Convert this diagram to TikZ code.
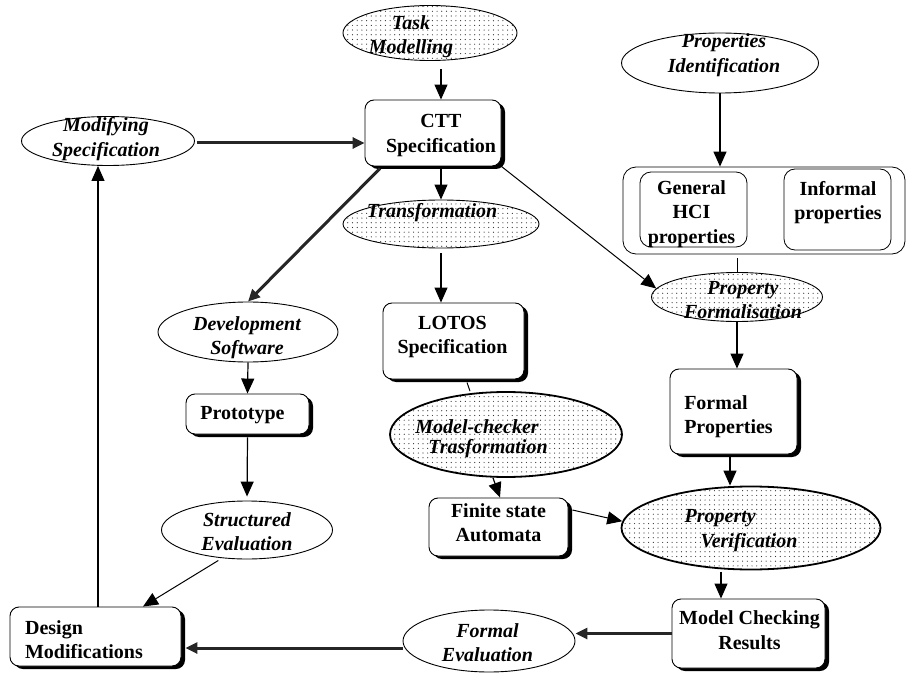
\documentclass[tikz,border=0pt]{standalone}
\usepackage{fontspec}
\setmainfont{Liberation Serif}
\usetikzlibrary{shapes.geometric,arrows.meta,patterns,shadows}
\pgfdeclarepatternformonly{sdots}{\pgfqpoint{-1pt}{-1pt}}{\pgfqpoint{1pt}{1pt}}{\pgfqpoint{4.7pt}{4.7pt}}{\pgfpathcircle{\pgfqpoint{0pt}{0pt}}{0.6pt}\pgfusepath{fill}}
\newcommand{\tlc}[2]{\begin{tabular}{@{}c@{}}#1\\#2\end{tabular}}
\newcommand{\tll}[2]{\begin{tabular}{@{}l@{}}#1\\#2\end{tabular}}
\begin{document}
\begin{tikzpicture}[x=1pt,y=-1pt,
  bx/.style={draw, rounded corners=9pt, fill=white, line width=0.9pt, inner sep=0pt,
    drop shadow={shadow xshift=4pt,shadow yshift=-3pt,opacity=1,fill=black}},
  plainbx/.style={draw, rounded corners=11pt, line width=0.8pt, inner sep=0pt},
  ell/.style={draw, ellipse, inner sep=0pt, line width=0.9pt, fill=white},
  dell/.style={draw, ellipse, inner sep=0pt, line width=0.9pt, pattern=sdots, pattern color=black!80},
  thk/.style={line width=1.8pt},
  btxt/.style={font=\fontsize{20}{24.5}\selectfont\bfseries, inner sep=0pt},
  itxt/.style={font=\fontsize{20}{24.5}\selectfont\bfseries\itshape, inner sep=0pt},
  itxtt/.style={font=\fontsize{20}{18.5}\selectfont\bfseries\itshape, inner sep=0pt},
  arr/.style={line width=1.2pt, -{Triangle[length=15pt,width=13pt]}},
  tarr/.style={line width=3pt, draw=black!85, -{Triangle[length=12pt,width=11pt]}, fill=black!85},
]
\useasboundingbox (0,0) rectangle (908,674);

% ellipses
\node[dell, minimum width=174pt, minimum height=55pt,
  label={[itxt,xshift=-19pt,yshift=-3.6pt]center:{\tlc{Task}{Modelling}}}] (tm) at (430,33) {};
\node[ell, minimum width=173pt, minimum height=49pt,
  label={[itxt,xshift=-2pt,yshift=2pt]center:{\tlc{Modifying}{Specification}}}] (ms) at (108,141) {};
\node[dell, minimum width=196pt, minimum height=48pt,
  label={[itxt,xshift=-9pt,yshift=11pt]center:{\begin{tabular}{@{}c@{}}Transformation\end{tabular}}}] (tr) at (441,224) {};
\node[ell, minimum width=180pt, minimum height=60pt,
  label={[itxt,xshift=-1pt,yshift=-5.6pt]center:{\tlc{Development}{Software}}}] (ds) at (248,332) {};
\node[ell, minimum width=171pt, minimum height=58pt,
  label={[itxt,xshift=0pt,yshift=-3.6pt]center:{\tlc{Structured}{Evaluation}}}] (se) at (247,530) {};
\node[dell, thk, minimum width=232pt, minimum height=85pt,
  label={[itxtt,xshift=-24.5pt,yshift=-4.8pt]center:{\tll{Model-checker}{\hspace*{13pt}Trasformation}}}] (mc) at (506,434.5) {};
\node[ell, minimum width=197pt, minimum height=60pt,
  label={[itxt,xshift=4pt,yshift=8pt]center:{\tlc{Properties}{Identification}}}] (ip) at (720,63) {};
\node[dell, minimum width=171pt, minimum height=49pt,
  label={[itxt,xshift=6pt,yshift=-4.6pt]center:{\tlc{Property}{Formalisation}}}] (pf) at (737,297) {};
\node[dell, thk, minimum width=259pt, minimum height=83pt,
  label={[itxt,xshift=-10pt,yshift=-2pt]center:{\tll{Property}{\hspace*{16pt}Verification}}}] (pv) at (751,528) {};
\node[ell, minimum width=172pt, minimum height=62pt,
  label={[itxt,xshift=-1.5pt,yshift=-3.6pt]center:{\tlc{Formal}{Evaluation}}}] (fe) at (489,641) {};

% boxes
\node[bx, minimum width=136pt, minimum height=66pt,
  label={[btxt,xshift=8pt,yshift=-2pt]center:{\tlc{CTT}{Specification}}}] (ctt) at (433,133) {};
\node[bx, minimum width=123pt, minimum height=40pt,
  label={[btxt,xshift=-5pt,yshift=-1pt]center:{\begin{tabular}{@{}c@{}}Prototype\end{tabular}}}] (pr) at (247.5,414) {};
\node[bx, minimum width=171pt, minimum height=59pt,
  label={[btxt,xshift=-11.5pt,yshift=-5.1pt]center:{\tll{Design}{Modifications}}}] (dm) at (95.5,636.5) {};
\node[bx, minimum width=141pt, minimum height=76pt,
  label={[btxt,xshift=-1pt,yshift=4.4pt]center:{\tlc{LOTOS}{Specification}}}] (lotos) at (453.5,341) {};
\node[bx, minimum width=139pt, minimum height=58pt,
  label={[btxt,xshift=0pt,yshift=2.4pt]center:{\tlc{Finite state}{Automata}}}] (fsa) at (498.5,527) {};
\node[bx, minimum width=127pt, minimum height=85pt,
  label={[btxt,xshift=-5pt,yshift=-5.1pt]center:{\tll{Formal}{Properties}}}] (fp) at (733.5,411.5) {};
\node[bx, minimum width=153pt, minimum height=69pt,
  label={[btxt,xshift=1pt,yshift=1.5pt]center:{\tlc{Model Checking}{Results}}}] (mcr) at (748.5,633.5) {};

% property container
\node[plainbx, rounded corners=13pt, minimum width=282pt, minimum height=87pt] (cont) at (764,210.5) {};
\node[plainbx, minimum width=107pt, minimum height=75pt,
  label={[btxt,xshift=-2pt,yshift=-4.5pt]center:{\begin{tabular}{@{}c@{}}General\\HCI\\properties\end{tabular}}}] (ghci) at (693.5,209.5) {};
\node[plainbx, minimum width=107pt, minimum height=81pt,
  label={[btxt,xshift=0.5pt,yshift=7pt]center:{\tlc{Informal}{properties}}}] (inf) at (837.5,209.5) {};

% helper coordinates
\coordinate (fpb) at ([xshift=-3.5pt]fp.south);
\coordinate (pvb) at ([xshift=-30pt]pv.south);
\coordinate (fel) at ([yshift=-7pt]fe.west);
\coordinate (dme) at ([xshift=4pt]dm.east);
\coordinate (dmt) at ([xshift=2.5pt]dm.north);

% connectors
\draw[arr] ([xshift=11pt,yshift=-8pt]tm.south) -- ([xshift=8pt]ctt.north);
\draw[tarr] ([xshift=2pt,yshift=-2pt]ms.east) -- ([yshift=-10pt]ctt.west);
\draw[arr] ([xshift=8pt]ctt.south) -- (tr.north);
\draw[tarr] ([xshift=-53pt,yshift=-2pt]ctt.south) -- (ds.north);
\draw[arr, line width=1pt] (ctt.south east) -- (pf.174);
\draw[arr] ([yshift=-5pt]tr.south) -- ([xshift=-12.5pt]lotos.north);
\draw[line width=1pt] ([xshift=13.5pt,yshift=-3pt]lotos.south) -- ([xshift=-36pt]mc.north);
\draw[arr] ([xshift=-13pt]mc.south) -- ([xshift=1.5pt]fsa.north);
\draw[arr, line width=1pt] ([xshift=4pt,yshift=17pt]fsa.east) -- (pv.177);
\draw[arr] (ip.south) -- (ip.south |- cont.north);
\draw[line width=1pt, shorten <=4pt] (pf.north |- cont.south) -- (pf.north);
\draw[arr] (pf.south) -- (pf.south |- fp.north);
\draw[arr, shorten <=3pt] (fpb) -- (fpb |- pv.north);
\draw[arr, shorten <=2pt] (pvb) -- (pvb |- mcr.north);
\draw[tarr] (mcr.west) -- (mcr.west -| fe.east);
\draw[tarr] (fel) -- (fel -| dme);
\draw[arr] (ds.south) -- (pr.north);
\draw[arr, shorten >=4pt] ([yshift=-3pt]pr.south) -- (se.north);
\draw[arr, line width=1pt, shorten <=2pt] ([xshift=-27pt]se.south) -- ([xshift=47.5pt]dm.north);
\draw[arr] (dmt) -- (dmt |- ms.south);
\end{tikzpicture}
\end{document}
